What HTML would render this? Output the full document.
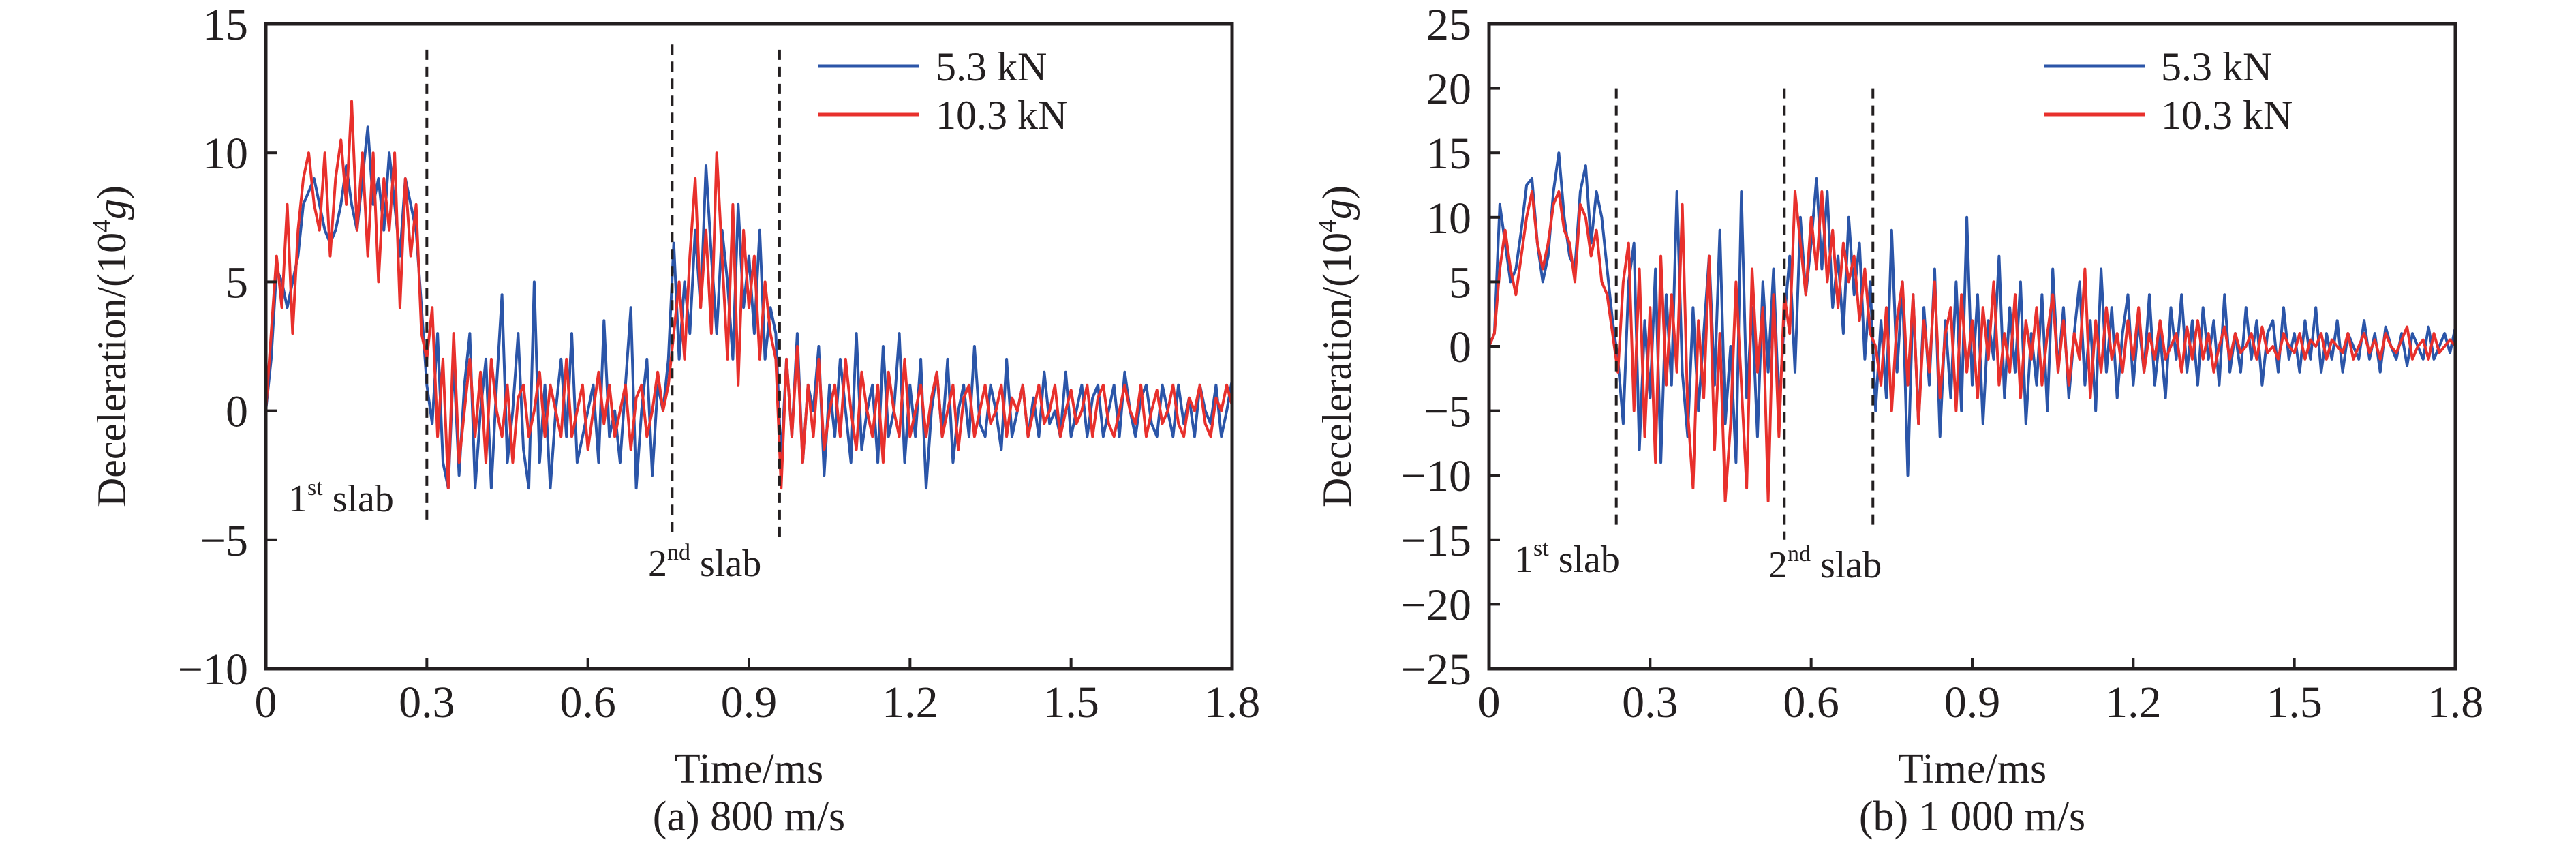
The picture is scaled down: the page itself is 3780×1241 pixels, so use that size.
<!DOCTYPE html>
<html><head><meta charset="utf-8"><style>
html,body{margin:0;padding:0;background:#fff;}
svg{display:block;font-family:"Liberation Serif",serif;}
</style></head><body>
<svg id="fig" width="3780" height="1241" viewBox="0 0 3780 1241" xmlns="http://www.w3.org/2000/svg"></svg>
<script>
const xTicks=[0,0.3,0.6,0.9,1.2,1.5,1.8];
const xTickLabels=["0","0.3","0.6","0.9","1.2","1.5","1.8"];
const yTicksA=[15,10,5,0,-5,-10];
const yTickLabelsA=["15","10","5","0","\u22125","\u221210"];
const yTicksB=[25,20,15,10,5,0,-5,-10,-15,-20,-25];
const yTickLabelsB=["25","20","15","10","5","0","\u22125","\u221210","\u221215","\u221220","\u221225"];
const seriesNames=["5.3 kN","10.3 kN"];
const slabA=[0.3,0.757,0.957];
const slabB=[0.237,0.55,0.715];
const blueA=[0,2,5.5,5,4,5,6,8,8.5,9,8,7,6.5,7,8,9.5,8,7,9,11,8,9,7,10,8,6,9,8,7,4,1,
-0.5,3,-2,-3,2,-2.5,1,3,-3,0,2,-3,1,4.5,-2,0,3,-1.5,-3,5,-2,1,-3,0,2,-1,3,-2,-1,0,1,-2,3.5,-1,0,-2,1,4,-3,0,2,-2.5,1,0,2,
6.5,2,5,3,7,4,9.5,6,3,7,5,2,8,4,6,3,7,2,4,3,
-2,2,-1,3,-2,1,0,2.5,-2.5,1,-1,2,0,-2,3,-1.5,0,1,-2,2.5,-1,0,3,-2,1,-1,2,-3,0,1.5,-1,2,-2,0,1,-1,2.5,-0.5,-1,1,0,-1.5,2,-1,0,1,-1,0.5,-1,1.5,-0.5,0,-1,1.5,-1,0,1,-1,0.5,1,-1,0,1,-1,1.5,0,-1,0.5,1,-0.5,-1,1,0,-1,1,-0.5,0.5,-1,1,0,-0.5,1,-1,0,1.2];
const redA=[0,3,6,4,8,3,7,9,10,8,7,10,6,9,10.5,8,12,7,10,6,10,5,9,7,10,4,9,6,8,3,2,
4,-1,2,-3,3,-2,0,2,-1,1.5,-2,2,0,-1,1,-2,0.5,1,-1,0,1.5,-1,1,0,-1,2,-1,0,1,-1.5,0,1.5,-0.5,1,-1,0,1,-1.5,0.5,1,-1,0,1.5,0,1,
3,5,2,6,9,4,7,3,10,6,2,8,1,7,4,6,2,5,3,2,
-3,2,-1,2.5,-2,1,-1,2,-1.5,0,1,-1,2,0,-1.5,1.5,0,-1,1,-2,1.5,0,-1,2,-1,0,1,-1,0.5,1.5,-1,0,1,-1.5,0.5,1,-1,0,1,-0.5,0,1,-1,0.5,0,1,-1,0,1,-0.5,0,1,-1,0,0.8,-0.5,0,1,-1,0.5,1,-0.5,-1,0,1,0,-0.5,1,-1,0,0.8,-0.5,0,1,-0.5,-1,0.5,0,1,-0.5,-1,0.5,0,1,0.2];
const blueB=[0,1,11,8,5,6,9,12.5,13,8,5,7,12,15,10,7,6,12,14,8,12,10,6,2,
-1,-6,5,8,-8,2,-4,6,-9,4,-3,12,-2,-7,3,-5,1,7,-3,9,-6,0,-9,12,-4,3,-7,5,-2,6,-5,
2,7,-2,10,4,8,13,6,12,3,7,1,10,4,8,-1,5,
-5,2,-4,9,-2,5,-10,4,-6,3,-3,6,-7,2,-4,5,-5,10,-3,4,-6,2,-1,7,-4,3,-2,5,-6,1,-3,4,-5,6,-2,3,-4,1,5,-3,2,-5,6,-2,3,-4,1,4,-3,2,-2,4,-3,1,-4,3,-1,4,-2,2,-3,3,-1,2,-3,4,-2,1,-2,3,-1,2,-3,1,2,-2,3,-1,1,-2,2,-1,3,-2,1,-1,2,-2,1,0,-1,2,-1,1,-2,1.5,0,-1,1,-1.5,1,0,-1,1.5,-1,0,1,-0.5,1.5];
const redB=[0,1,6,9,6,4,7,10,12,8,6,8,11,12,9,8,5,11,10,7,9,5,4,1,
-2,5,8,-5,6,-7,3,-9,7,-3,4,-2,11,-5,-11,2,-4,7,-8,1,-12,-6,5,-3,-11,6,-2,3,-12,4,-7,
4,1,12,8,4,10,6,12,5,9,3,8,5,7,2,6,1,
0,-3,3,-5,2,5,-3,4,-6,2,-2,5,-4,1,3,-5,4,-2,2,-4,3,-1,5,-3,1,-2,4,-4,2,-1,3,-3,1,4,-2,2,-3,1,-1,6,-4,2,-2,3,-1,1,-2,2,-1,3,-2,1,-1,2,-1,0,1,-2,1.5,-1,2,-1,1,-2,0,1.5,-1,1,-0.5,0,1,-1,1.5,-0.5,0,-1,1,0,-0.5,1,-1,0.5,0,1,-1,0.5,0,-0.5,1,-1,0,1,-0.5,0.5,-1,1,0,-0.5,0.5,1.5,-1,0,0.5,-1,1,-0.5,0,0.5,0];

const NS="http://www.w3.org/2000/svg";
const svg=document.getElementById('fig');
function mk(tag,attrs,parent){const e=document.createElementNS(NS,tag);for(const k in attrs)e.setAttribute(k,attrs[k]);(parent||svg).appendChild(e);return e;}
const BLUE="#2b55a8",RED="#e8302c",INK="#231f20";

function panel(o){
  const g=mk('g',{});
  
  
  const L=o.left,R=o.left+1418,T=35,B=981;
  const sx=v=>L+(v-0)/1.8*(R-L);
  const sy=v=>T+(o.ymax-v)/(o.ymax-o.ymin)*(B-T);
  // series
  [[o.blue,BLUE,'series-5-3kn'],[o.red,RED,'series-10-3kn']].forEach(([arr,col,nm])=>{
    const n=arr.length;let d='';
    arr.forEach((v,i)=>{d+=(i?'L':'M')+sx(i*1.8/(n-1)).toFixed(1)+' '+sy(v).toFixed(1);});
    const p=mk('path',{d:d,fill:'none',stroke:col,'stroke-width':4,'stroke-linejoin':'round'},g);
    
    
  });
  // slab lines
  o.slabs.forEach((t,i)=>{
    const l=mk('line',{x1:sx(t),x2:sx(t),y1:sy(o.slabTop[i]),y2:sy(o.slabBot[i]),stroke:INK,'stroke-width':4,'stroke-dasharray':'15 10'},g);
    
    
  });
  // frame
  const f=mk('rect',{x:L,y:T,width:R-L,height:B-T,fill:'none',stroke:INK,'stroke-width':5},g);
  
  
  // x ticks
  xTicks.forEach((t,i)=>{
    const tk=mk('line',{x1:sx(t),x2:sx(t),y1:B,y2:B-16,stroke:INK,'stroke-width':4},g);
    
    
    const tx=mk('text',{x:sx(t),y:1052,'text-anchor':'middle','font-size':66,fill:INK},g);
    tx.textContent=xTickLabels[i];
    
    
  });
  o.yt.forEach((v,i)=>{
    const tk=mk('line',{x1:L,x2:L+16,y1:sy(v),y2:sy(v),stroke:INK,'stroke-width':4},g);
    
    
    const tx=mk('text',{x:L-26,y:sy(v)+23,'text-anchor':'end','font-size':66,fill:INK},g);
    tx.textContent=o.yl[i];
    
    
  });
  // legend
  const lg=mk('g',{},g);
  
  
  [[BLUE,97],[RED,168]].forEach(([c,y],i)=>{
    const ln=mk('line',{x1:o.legX,x2:o.legX+148,y1:y,y2:y,stroke:c,'stroke-width':5},lg);
    
    
    const tx=mk('text',{x:o.legX+172,y:y+21,'font-size':60,fill:INK},lg);
    tx.textContent=seriesNames[i];
    
    
  });
  // slab labels
  o.slabLabels.forEach(([x,y,num,sup],i)=>{
    const tx=mk('text',{x:x,y:y,'font-size':56,fill:INK},g);
    
    
    const a=mk('tspan',{},tx);a.textContent=num;
    const b=mk('tspan',{dy:-24,'font-size':34},tx);b.textContent=sup;
    const c=mk('tspan',{dy:24},tx);c.textContent=' slab';
  });
  // y axis title
  const yt=mk('text',{x:0,y:0,transform:`translate(${o.ytx},508) rotate(-90)`,'text-anchor':'middle','font-size':60,fill:INK},g);
  
  
  const t1=mk('tspan',{},yt);t1.textContent='Deceleration/(10';
  const t2=mk('tspan',{dy:-22,'font-size':38},yt);t2.textContent='4';
  const t3=mk('tspan',{dy:22,'font-style':'italic'},yt);t3.textContent='g';
  const t4=mk('tspan',{},yt);t4.textContent=')';
  const xt=mk('text',{x:(L+R)/2,y:1148,'text-anchor':'middle','font-size':62,fill:INK},g);
  xt.textContent='Time/ms';
  
  
  const cap=mk('text',{x:(L+R)/2,y:1218,'text-anchor':'middle','font-size':62,fill:INK},g);
  cap.textContent=o.caption;
  
  
}
panel({name:'panel-a',left:390,ymin:-10,ymax:15,yt:yTicksA,yl:yTickLabelsA,blue:blueA,red:redA,
  slabs:slabA,slabTop:[14,14.2,14],slabBot:[-4.3,-4.7,-5],legX:1201,ytx:184,caption:'(a) 800 m/s',
  slabLabels:[[423,750,'1','st'],[951,845,'2','nd']]});
panel({name:'panel-b',left:2185,ymin:-25,ymax:25,yt:yTicksB,yl:yTickLabelsB,blue:blueB,red:redB,
  slabs:slabB,slabTop:[20,20,20],slabBot:[-14,-15,-14],legX:2999,ytx:1982,caption:'(b) 1 000 m/s',
  slabLabels:[[2222,839,'1','st'],[2595,847,'2','nd']]});
</script>
</body></html>
